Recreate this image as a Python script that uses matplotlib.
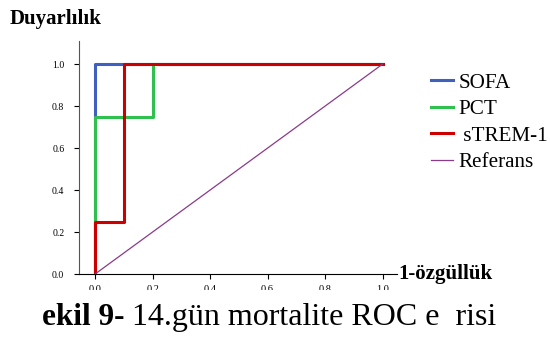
import numpy as np
import matplotlib.pyplot as plt
from matplotlib.patches import Rectangle

plt.rcParams['font.family'] = ['Liberation Serif', 'DejaVu Serif']

# ROC curve points (1-specificity, sensitivity)
sofa_x = [0.0, 0.0, 1.0]
sofa_y = [0.0, 1.0, 1.0]
pct_x = [0.0, 0.0, 0.2, 0.2, 1.0]
pct_y = [0.0, 0.75, 0.75, 1.0, 1.0]
strem_x = [0.0, 0.0, 0.1, 0.1, 1.0]
strem_y = [0.0, 0.25, 0.25, 1.0, 1.0]
ref_x = [0.0, 1.0]
ref_y = [0.0, 1.0]

ticks = [0.0, 0.2, 0.4, 0.6, 0.8, 1.0]
tick_labels = ["0.0", "0.2", "0.4", "0.6", "0.8", "1.0"]

fig = plt.figure(figsize=(5.5, 3.47), dpi=100)
ax = fig.add_axes([79 / 550, 1 - 274 / 347, (397 - 79) / 550, (274 - 41) / 347])

ax.plot(sofa_x, sofa_y, color="#4060c0", lw=2.2, label="SOFA")
ax.plot(pct_x, pct_y, color="#30c050", lw=2.2, label="PCT")
ax.plot(strem_x, strem_y, color="#cc0000", lw=2.2, label=" sTREM-1")
ax.plot(ref_x, ref_y, color="#8b3a8b", lw=0.9, label="Referans")

ax.set_xlim(-0.056, 1.05)
ax.set_ylim(0, 1.11)
ax.set_xticks(ticks)
ax.set_xticklabels(tick_labels, fontsize=7.5)
ax.set_yticks(ticks)
ax.set_yticklabels(tick_labels, fontsize=7)
ax.tick_params(axis="x", length=3.6, width=0.8, pad=4.2)
ax.tick_params(axis="y", length=3.6, width=0.8, pad=7)
for s in ["top", "right"]:
    ax.spines[s].set_visible(False)
ax.spines["left"].set_color("#555555")

leg = ax.legend(loc="upper left", bbox_to_anchor=(431 / 550, 1 - 73 / 347),
                bbox_transform=fig.transFigure, frameon=False,
                fontsize=15.2, handlelength=1.05, handletextpad=0.24,
                labelspacing=0.32, borderaxespad=0, borderpad=0)

# the reference has the x tick labels cut through the middle
fig.add_artist(Rectangle((0, 1 - 305 / 347), 1, 15 / 347, transform=fig.transFigure,
                         facecolor="white", edgecolor="none", zorder=2))

fig.text(10 / 550, 1 - 24 / 347, "Duyarlılık", fontsize=15, fontweight="bold",
         va="baseline", ha="left")
fig.text(398 / 550, 1 - 279 / 347, "1-özgüllük", fontsize=15, fontweight="bold",
         va="baseline", ha="left")
fig.text(42 / 550, 1 - 325 / 347, "ekil 9-", fontsize=22.5, fontweight="bold",
         va="baseline", ha="left")
fig.text(132 / 550, 1 - 325 / 347, "14.gün mortalite ROC e  risi", fontsize=23,
         va="baseline", ha="left")

plt.savefig("out.png", dpi=100)
